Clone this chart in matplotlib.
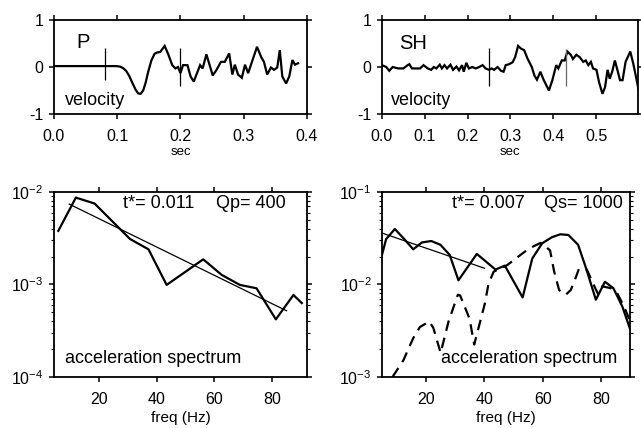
import matplotlib
matplotlib.use("Agg")
import matplotlib.pyplot as plt
from matplotlib.ticker import LogLocator, NullFormatter, FixedLocator

plt.rcParams['font.family'] = ['Liberation Sans', 'DejaVu Sans']
plt.rcParams['mathtext.fontset'] = 'custom'
plt.rcParams['mathtext.rm'] = 'Liberation Sans'
plt.rcParams['mathtext.it'] = 'Liberation Sans:italic'
plt.rcParams['axes.unicode_minus'] = False

# ---------------- data ----------------
# P velocity waveform
p_t = [0.0, 0.090, 0.098, 0.104, 0.109, 0.114, 0.119, 0.124, 0.129, 0.133, 0.137, 0.141,
       0.145, 0.149, 0.154, 0.159, 0.163, 0.168, 0.175, 0.181, 0.187, 0.192, 0.196, 0.200,
       0.204, 0.211, 0.216, 0.221, 0.231, 0.235, 0.241, 0.251, 0.257, 0.264, 0.270, 0.277,
       0.282, 0.286, 0.291, 0.297, 0.302, 0.307, 0.313, 0.321, 0.328, 0.332, 0.337, 0.343,
       0.348, 0.353, 0.357, 0.361, 0.367, 0.372, 0.377, 0.381, 0.386]
p_v = [0.02, 0.02, 0.02, 0.01, -0.02, -0.08, -0.19, -0.34, -0.48, -0.56, -0.57, -0.50,
       -0.33, -0.10, 0.14, 0.28, 0.31, 0.32, 0.45, 0.26, 0.04, -0.03, 0.0, -0.13,
       0.04, 0.04, -0.20, -0.31, 0.04, -0.03, 0.27, -0.18, -0.06, 0.11, 0.11, 0.29,
       -0.16, 0.05, -0.16, -0.23, 0.05, -0.13, 0.11, 0.43, 0.20, 0.11, -0.16, -0.01,
       -0.06, -0.01, 0.36, -0.20, -0.35, -0.20, 0.15, 0.05, 0.08]
p_picks = [0.081, 0.200]
p_pick_lo = [-0.28, -0.40]
p_pick_hi = [0.40, 0.40]

# SH velocity waveform
sh_t = [0.0, 0.010, 0.017, 0.025, 0.038, 0.050, 0.060, 0.064, 0.070, 0.089, 0.097, 0.107,
        0.115, 0.121, 0.127, 0.135, 0.140, 0.146, 0.152, 0.160, 0.166, 0.174, 0.180, 0.187,
        0.191, 0.197, 0.203, 0.211, 0.219, 0.227, 0.235, 0.242, 0.250, 0.256, 0.262, 0.270,
        0.278, 0.284, 0.289, 0.297, 0.305, 0.311, 0.318, 0.325, 0.332, 0.340, 0.350, 0.356,
        0.362, 0.370, 0.378, 0.390, 0.398, 0.407, 0.412, 0.420, 0.427, 0.433, 0.441, 0.446,
        0.454, 0.462, 0.470, 0.476, 0.482, 0.488, 0.493, 0.501, 0.507, 0.515, 0.521, 0.527,
        0.532, 0.538, 0.544, 0.551, 0.556, 0.562, 0.569, 0.580, 0.587, 0.595, 0.599]
sh_v = [0.04, 0.0, -0.08, 0.0, -0.03, -0.03, 0.04, 0.06, -0.03, -0.03, 0.04, -0.03,
        -0.06, 0.0, -0.03, 0.05, -0.03, 0.04, -0.03, 0.05, -0.06, 0.01, -0.07, 0.04,
        -0.10, 0.09, -0.03, 0.0, -0.03, 0.0, 0.04, -0.03, -0.06, -0.03, -0.06, 0.0,
        -0.08, -0.10, 0.04, 0.06, 0.10, 0.21, 0.45, 0.39, 0.36, 0.18, 0.0, -0.18,
        -0.27, -0.10, -0.28, -0.50, -0.28, 0.04, -0.03, 0.14, 0.14, 0.33, 0.26, 0.17,
        0.26, 0.21, 0.11, 0.14, 0.04, 0.11, -0.03, -0.06, -0.32, -0.57, -0.43, -0.06,
        -0.25, -0.09, 0.14, -0.10, -0.28, -0.28, 0.11, 0.33, 0.07, -0.28, -0.47]
sh_picks = [0.250, 0.431]
sh_pick_lo = [-0.41, -0.41]
sh_pick_hi = [0.40, 0.38]

# P acceleration spectrum
p_freq = [5.9, 12.0, 18.5, 30.8, 37.2, 43.5, 56.2, 62.6, 68.9, 74.7, 81.4, 87.5, 90.4]
p_amp = [3.8e-3, 8.7e-3, 7.5e-3, 3.1e-3, 2.4e-3, 9.9e-4, 1.87e-3, 1.27e-3, 9.9e-4,
         9.1e-4, 4.2e-4, 7.7e-4, 6.3e-4]
p_fit_freq = [9.7, 85.1]
p_fit_amp = [7.4e-3, 5.2e-4]

# SH acceleration spectrum
sh_freq = [4.9, 6.3, 9.3, 12.4, 15.6, 18.6, 21.8, 24.9, 28.1, 31.1, 37.4, 43.8, 47.0,
           53.1, 56.4, 59.8, 63.1, 66.0, 68.8, 72.1, 74.9, 78.2, 81.3, 84.2, 87.3, 89.9]
sh_amp = [0.0209, 0.0309, 0.0398, 0.0313, 0.0240, 0.0285, 0.0295, 0.0269, 0.0209, 0.0111,
          0.0214, 0.0145, 0.0160, 0.00724, 0.0191, 0.0279, 0.0324, 0.0349, 0.0343, 0.0269,
          0.0148, 0.00684, 0.0107, 0.00912, 0.00575, 0.00331]
sh_fit_freq = [4.9, 40.0]
sh_fit_amp = [3.6e-2, 1.5e-2]
noise_freq = [8.5, 12.2, 15.6, 17.9, 21.1, 22.5, 25.0, 27.7, 30.9, 31.7, 34.9, 36.5, 40.2,
              41.4, 43.2, 45.5, 47.8, 52.4, 55.3, 59.3, 62.5, 63.9, 65.6, 67.9, 69.6, 71.0,
              72.4, 75.1, 77.7, 78.9, 80.4, 83.3, 85.6, 87.9, 90.2]
noise_amp = [1.0e-3, 1.51e-3, 2.63e-3, 3.47e-3, 3.98e-3, 3.39e-3, 1.82e-3, 3.98e-3, 7.76e-3,
             7.59e-3, 4.27e-3, 2.24e-3, 6.31e-3, 1.02e-2, 1.38e-2, 1.48e-2, 1.62e-2, 2.09e-2,
             2.45e-2, 2.82e-2, 2.34e-2, 1.38e-2, 8.71e-3, 7.76e-3, 8.71e-3, 1.12e-2, 1.48e-2,
             1.45e-2, 9.55e-3, 7.94e-3, 9.55e-3, 9.12e-3, 7.94e-3, 5.75e-3, 3.80e-3]

wave_yticks = [-1, 0, 1]
wave_yticklabels = ['-1', '0', '1']
p_xticks = [0.0, 0.1, 0.2, 0.3, 0.4]
sh_xticks = [0.0, 0.1, 0.2, 0.3, 0.4, 0.5]
freq_ticks = [20, 40, 60, 80]

# ---------------- figure ----------------
fig = plt.figure(figsize=(6.41, 4.28), dpi=100)

ax_tl = fig.add_axes([0.0842, 0.7336, 0.3947, 0.2196])
ax_tr = fig.add_axes([0.5959, 0.7336, 0.3994, 0.2196])
ax_bl = fig.add_axes([0.0842, 0.1192, 0.3947, 0.4322])
ax_br = fig.add_axes([0.5964, 0.1192, 0.3869, 0.4322])

LW = 1.6
TICK_FS = 11.5
TEXT_FS = 13


def style(ax):
    for s in ax.spines.values():
        s.set_linewidth(1.3)
    ax.tick_params(which='major', direction='out', length=3.6, width=1.1,
                   top=True, right=True, labelsize=TICK_FS, pad=4)
    ax.tick_params(which='minor', direction='out', length=2.0, width=0.8,
                   top=False, right=True, left=True)
    ax.tick_params(axis='x', which='major', pad=7)


# waveforms
for ax, t, v, picks, lo, hi, xt, xmax, lab, pick_cols in [
        (ax_tl, p_t, p_v, p_picks, p_pick_lo, p_pick_hi, p_xticks, 0.4, 'P', ['k', 'k']),
        (ax_tr, sh_t, sh_v, sh_picks, sh_pick_lo, sh_pick_hi, sh_xticks, 0.598, 'SH', ['k', '#666666'])]:
    ax.plot(t, v, color='k', lw=LW, solid_joinstyle='miter')
    for x, a, b, c in zip(picks, lo, hi, pick_cols):
        ax.vlines(x, a, b, color=c, lw=0.9)
    ax.set_xlim(0, xmax)
    ax.set_ylim(-1, 1)
    ax.set_xticks(xt)
    ax.set_xticklabels(['%.1f' % x for x in xt])
    ax.set_yticks(wave_yticks)
    ax.set_yticklabels(wave_yticklabels)
    style(ax)
    ax.text(0.5, -0.40, 'sec', transform=ax.transAxes, ha='center', va='center', fontsize=9.5)

ax_tl.text(0.09, 0.765, 'P', transform=ax_tl.transAxes, ha='left', va='center', fontsize=TEXT_FS + 1.5)
ax_tr.text(0.066, 0.745, 'SH', transform=ax_tr.transAxes, ha='left', va='center', fontsize=TEXT_FS + 1.5)
ax_tl.text(0.043, 0.096, 'velocity', transform=ax_tl.transAxes, ha='left', va='baseline', fontsize=TEXT_FS)
ax_tr.text(0.035, 0.096, 'velocity', transform=ax_tr.transAxes, ha='left', va='baseline', fontsize=TEXT_FS)

# spectra
ax_bl.plot(p_freq, p_amp, color='k', lw=LW)
ax_bl.plot(p_fit_freq, p_fit_amp, color='k', lw=0.9)
ax_bl.set_yscale('log')
ax_bl.set_xlim(4.4, 92.2)
ax_bl.set_ylim(1e-4, 1e-2)

ax_br.plot(sh_freq, sh_amp, color='k', lw=LW)
ax_br.plot(sh_fit_freq, sh_fit_amp, color='k', lw=0.9)
ax_br.plot(noise_freq, noise_amp, color='k', lw=LW, dashes=(4.8, 3.2))
ax_br.set_yscale('log')
ax_br.set_xlim(5, 90)
ax_br.set_ylim(1e-3, 1e-1)

for ax in (ax_bl, ax_br):
    ax.set_xticks(freq_ticks)
    ax.yaxis.set_minor_locator(LogLocator(base=10, subs=range(2, 10), numticks=20))
    ax.yaxis.set_minor_formatter(NullFormatter())
    ax.xaxis.set_minor_locator(FixedLocator([]))
    style(ax)
    ax.text(0.5, -0.222, 'freq (Hz)', transform=ax.transAxes, ha='center', va='center', fontsize=11)

ax_bl.text(0.273, 0.914, 't*= 0.011', transform=ax_bl.transAxes, ha='left', va='baseline', fontsize=TEXT_FS)
ax_bl.text(0.917, 0.914, 'Qp= 400', transform=ax_bl.transAxes, ha='right', va='baseline', fontsize=TEXT_FS)
ax_br.text(0.28, 0.914, 't*= 0.007', transform=ax_br.transAxes, ha='left', va='baseline', fontsize=TEXT_FS)
ax_br.text(0.97, 0.914, 'Qs= 1000', transform=ax_br.transAxes, ha='right', va='baseline', fontsize=TEXT_FS)
ax_bl.text(0.043, 0.074, 'acceleration spectrum', transform=ax_bl.transAxes, ha='left', va='baseline', fontsize=TEXT_FS)
ax_br.text(0.235, 0.074, 'acceleration spectrum', transform=ax_br.transAxes, ha='left', va='baseline', fontsize=TEXT_FS)

fig.savefig('out.png', dpi=100)
